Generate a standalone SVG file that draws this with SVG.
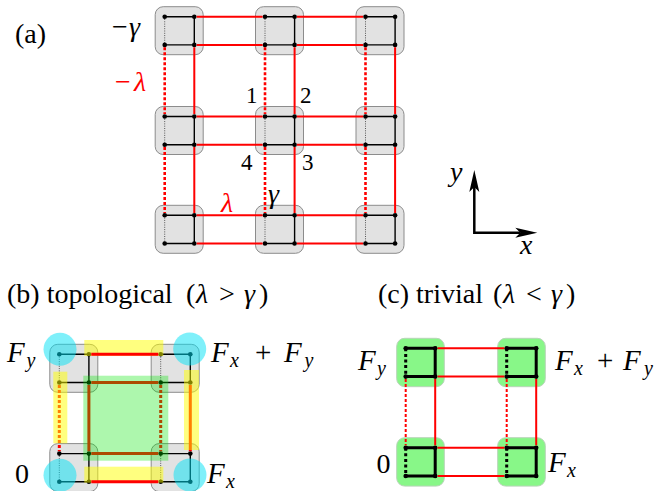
<svg xmlns="http://www.w3.org/2000/svg" width="661" height="491" viewBox="0 0 661 491">
<g id="a-r0c0"><rect x="155.2" y="6.7" width="48" height="48" rx="8" fill="#e2e2e2" stroke="#8c8c8c"/><path d="M164.7,16.7H194.3V44.9H164.7" fill="none" stroke="#000" stroke-width="1.4"/><path d="M164.7,16.7V44.9" stroke="#555" stroke-dasharray="1 1.3"/><circle cx="164.7" cy="16.7" r="2.3"/><circle cx="194.3" cy="16.7" r="2.3"/><circle cx="194.3" cy="44.9" r="2.3"/><circle cx="164.7" cy="44.9" r="2.3"/></g>
<g id="a-r0c1"><rect x="255.5" y="6.7" width="48" height="48" rx="8" fill="#e2e2e2" stroke="#8c8c8c"/><path d="M265,16.7H294.6V44.9H265" fill="none" stroke="#000" stroke-width="1.4"/><path d="M265,16.7V44.9" stroke="#555" stroke-dasharray="1 1.3"/><circle cx="265" cy="16.7" r="2.3"/><circle cx="294.6" cy="16.7" r="2.3"/><circle cx="294.6" cy="44.9" r="2.3"/><circle cx="265" cy="44.9" r="2.3"/></g>
<g id="a-r0c2"><rect x="356" y="6.7" width="48" height="48" rx="8" fill="#e2e2e2" stroke="#8c8c8c"/><path d="M365.5,16.7H395.1V44.9H365.5" fill="none" stroke="#000" stroke-width="1.4"/><path d="M365.5,16.7V44.9" stroke="#555" stroke-dasharray="1 1.3"/><circle cx="365.5" cy="16.7" r="2.3"/><circle cx="395.1" cy="16.7" r="2.3"/><circle cx="395.1" cy="44.9" r="2.3"/><circle cx="365.5" cy="44.9" r="2.3"/></g>
<g id="a-r1c0"><rect x="155.2" y="106.5" width="48" height="48" rx="8" fill="#e2e2e2" stroke="#8c8c8c"/><path d="M164.7,116.5H194.3V144.7H164.7" fill="none" stroke="#000" stroke-width="1.4"/><path d="M164.7,116.5V144.7" stroke="#555" stroke-dasharray="1 1.3"/><circle cx="164.7" cy="116.5" r="2.3"/><circle cx="194.3" cy="116.5" r="2.3"/><circle cx="194.3" cy="144.7" r="2.3"/><circle cx="164.7" cy="144.7" r="2.3"/></g>
<g id="a-r1c1"><rect x="255.5" y="106.5" width="48" height="48" rx="8" fill="#e2e2e2" stroke="#8c8c8c"/><path d="M265,116.5H294.6V144.7H265" fill="none" stroke="#000" stroke-width="1.4"/><path d="M265,116.5V144.7" stroke="#555" stroke-dasharray="1 1.3"/><circle cx="265" cy="116.5" r="2.3"/><circle cx="294.6" cy="116.5" r="2.3"/><circle cx="294.6" cy="144.7" r="2.3"/><circle cx="265" cy="144.7" r="2.3"/></g>
<g id="a-r1c2"><rect x="356" y="106.5" width="48" height="48" rx="8" fill="#e2e2e2" stroke="#8c8c8c"/><path d="M365.5,116.5H395.1V144.7H365.5" fill="none" stroke="#000" stroke-width="1.4"/><path d="M365.5,116.5V144.7" stroke="#555" stroke-dasharray="1 1.3"/><circle cx="365.5" cy="116.5" r="2.3"/><circle cx="395.1" cy="116.5" r="2.3"/><circle cx="395.1" cy="144.7" r="2.3"/><circle cx="365.5" cy="144.7" r="2.3"/></g>
<g id="a-r2c0"><rect x="155.2" y="205.3" width="48" height="48" rx="8" fill="#e2e2e2" stroke="#8c8c8c"/><path d="M164.7,215.3H194.3V243.5H164.7" fill="none" stroke="#000" stroke-width="1.4"/><path d="M164.7,215.3V243.5" stroke="#555" stroke-dasharray="1 1.3"/><circle cx="164.7" cy="215.3" r="2.3"/><circle cx="194.3" cy="215.3" r="2.3"/><circle cx="194.3" cy="243.5" r="2.3"/><circle cx="164.7" cy="243.5" r="2.3"/></g>
<g id="a-r2c1"><rect x="255.5" y="205.3" width="48" height="48" rx="8" fill="#e2e2e2" stroke="#8c8c8c"/><path d="M265,215.3H294.6V243.5H265" fill="none" stroke="#000" stroke-width="1.4"/><path d="M265,215.3V243.5" stroke="#555" stroke-dasharray="1 1.3"/><circle cx="265" cy="215.3" r="2.3"/><circle cx="294.6" cy="215.3" r="2.3"/><circle cx="294.6" cy="243.5" r="2.3"/><circle cx="265" cy="243.5" r="2.3"/></g>
<g id="a-r2c2"><rect x="356" y="205.3" width="48" height="48" rx="8" fill="#e2e2e2" stroke="#8c8c8c"/><path d="M365.5,215.3H395.1V243.5H365.5" fill="none" stroke="#000" stroke-width="1.4"/><path d="M365.5,215.3V243.5" stroke="#555" stroke-dasharray="1 1.3"/><circle cx="365.5" cy="215.3" r="2.3"/><circle cx="395.1" cy="215.3" r="2.3"/><circle cx="395.1" cy="243.5" r="2.3"/><circle cx="365.5" cy="243.5" r="2.3"/></g>

<g id="a-connectors" fill="none" stroke="#f00">
  <path stroke-width="2" d="M196.7,16.7H262.6M296.9,16.7H363.1M196.7,44.9H262.6M296.9,44.9H363.1M196.7,116.5H262.6M296.9,116.5H363.1M196.7,144.7H262.6M296.9,144.7H363.1M196.7,215.3H262.6M296.9,215.3H363.1M196.7,243.5H262.6M296.9,243.5H363.1"/>
  <path stroke-width="2" d="M194.3,47.3V114.1M294.6,47.3V114.1M395.1,47.3V114.1M194.3,147.1V212.9M294.6,147.1V212.9M395.1,147.1V212.9"/>
  <path stroke-width="2.6" stroke-dasharray="3 2" d="M164.7,47.3V114.1M265,47.3V114.1M365.5,47.3V114.1M164.7,147.1V212.9M265,147.1V212.9M365.5,147.1V212.9"/>
</g>

<text style="font-family:'Liberation Serif',serif" font-size="28" x="15" y="43">(a)</text>
<text style="font-family:'Liberation Serif',serif" font-size="28" x="112" y="36">−<tspan font-style="italic" x="129">γ</tspan></text>
<text style="font-family:'Liberation Serif',serif" font-size="28" fill="#f00" x="115" y="91">−<tspan font-style="italic" x="134">λ</tspan></text>
<text style="font-family:'Liberation Serif',serif" font-size="23" x="246" y="103">1</text>
<text style="font-family:'Liberation Serif',serif" font-size="23" x="300" y="103">2</text>
<text style="font-family:'Liberation Serif',serif" font-size="23" x="241" y="170">4</text>
<text style="font-family:'Liberation Serif',serif" font-size="23" x="302" y="170">3</text>
<text style="font-family:'Liberation Serif',serif" font-size="28" font-style="italic" fill="#f00" x="221" y="212">λ</text>
<text style="font-family:'Liberation Serif',serif" font-size="28" font-style="italic" x="268" y="203">γ</text>

<g id="axes">
  <path d="M474.3,187V232.7H520.3" fill="none" stroke="#000" stroke-width="2.5"/>
  <path d="M474.3,170L479.3,192L474.3,187L469.3,192Z" fill="#000"/>
  <path d="M537.3,232.7L515.3,237.7L520.3,232.7L515.3,227.7Z" fill="#000"/>
  <text style="font-family:'Liberation Serif',serif" font-size="28" font-style="italic" x="450" y="181">y</text>
  <text style="font-family:'Liberation Serif',serif" font-size="28" font-style="italic" x="520" y="254">x</text>
</g>

<text style="font-family:'Liberation Serif',serif" font-size="28" x="7" y="303">(b) topological<tspan x="186">(</tspan><tspan font-style="italic" x="196">λ</tspan><tspan x="219">&gt;</tspan><tspan font-style="italic" x="244">γ</tspan><tspan x="259">)</tspan></text>

<g id="b-r0c0"><rect x="49.8" y="344.3" width="48" height="48" rx="8" fill="#e2e2e2" stroke="#8c8c8c"/><path d="M59.3,354.3H88.9V382.5H59.3" fill="none" stroke="#000" stroke-width="1.4"/><path d="M59.3,354.3V382.5" stroke="#555" stroke-dasharray="1 1.3"/><circle cx="59.3" cy="354.3" r="2.3"/><circle cx="88.9" cy="354.3" r="2.3"/><circle cx="88.9" cy="382.5" r="2.3"/><circle cx="59.3" cy="382.5" r="2.3"/></g>
<g id="b-r0c1"><rect x="151.2" y="344.3" width="48" height="48" rx="8" fill="#e2e2e2" stroke="#8c8c8c"/><path d="M160.7,354.3H190.3V382.5H160.7" fill="none" stroke="#000" stroke-width="1.4"/><path d="M160.7,354.3V382.5" stroke="#555" stroke-dasharray="1 1.3"/><circle cx="160.7" cy="354.3" r="2.3"/><circle cx="190.3" cy="354.3" r="2.3"/><circle cx="190.3" cy="382.5" r="2.3"/><circle cx="160.7" cy="382.5" r="2.3"/></g>
<g id="b-r1c0"><rect x="49.8" y="443.6" width="48" height="48" rx="8" fill="#e2e2e2" stroke="#8c8c8c"/><path d="M59.3,453.6H88.9V481.8H59.3" fill="none" stroke="#000" stroke-width="1.4"/><path d="M59.3,453.6V481.8" stroke="#555" stroke-dasharray="1 1.3"/><circle cx="59.3" cy="453.6" r="2.3"/><circle cx="88.9" cy="453.6" r="2.3"/><circle cx="88.9" cy="481.8" r="2.3"/><circle cx="59.3" cy="481.8" r="2.3"/></g>
<g id="b-r1c1"><rect x="151.2" y="443.6" width="48" height="48" rx="8" fill="#e2e2e2" stroke="#8c8c8c"/><path d="M160.7,453.6H190.3V481.8H160.7" fill="none" stroke="#000" stroke-width="1.4"/><path d="M160.7,453.6V481.8" stroke="#555" stroke-dasharray="1 1.3"/><circle cx="160.7" cy="453.6" r="2.3"/><circle cx="190.3" cy="453.6" r="2.3"/><circle cx="190.3" cy="481.8" r="2.3"/><circle cx="160.7" cy="481.8" r="2.3"/></g>

<g id="b-connectors" fill="none" stroke="#f00" stroke-width="3">
  <path d="M91.3,382.5H158.3M91.3,453.6H158.3M88.9,384.9V451.2M190.3,384.9V451.2"/>
  <path stroke-dasharray="3 2" d="M59.3,384.9V451.2M160.7,384.9V451.2"/>
</g>

<g id="b-highlights">
  <g fill="#ffff00" fill-opacity="0.5">
    <rect x="84.3" y="340" width="79" height="16"/>
    <rect x="84.3" y="466.7" width="79" height="16"/>
    <rect x="53.3" y="371.7" width="14" height="71.6"/>
    <rect x="184" y="370" width="15" height="80"/>
  </g>
  <rect fill="#00e600" fill-opacity="0.32" x="83.3" y="375.7" width="85" height="85"/>
  <g fill="#00e1f5" fill-opacity="0.5">
    <circle cx="60" cy="349.3" r="16.5"/>
    <circle cx="189.7" cy="349" r="16.5"/>
    <circle cx="60" cy="475.3" r="16.5"/>
    <circle cx="190" cy="475" r="16.5"/>
  </g>
</g>
<g id="b-connectors-top" fill="none" stroke="#f00" stroke-width="3">
  <path d="M91.3,354.3H158.3M91.3,481.8H158.3"/>
</g>

<text style="font-family:'Liberation Serif',serif" font-size="29" font-style="italic" x="7" y="362">F<tspan font-size="20" x="26.5" y="367">y</tspan></text>
<text style="font-family:'Liberation Serif',serif" font-size="29" font-style="italic" x="211" y="362">F<tspan font-size="20" x="230" y="367">x</tspan><tspan font-style="normal" x="255" y="362">+</tspan><tspan x="284" y="362">F</tspan><tspan font-size="20" x="304.5" y="367">y</tspan></text>
<text style="font-family:'Liberation Serif',serif" font-size="28" x="15" y="483">0</text>
<text style="font-family:'Liberation Serif',serif" font-size="29" font-style="italic" x="207" y="483">F<tspan font-size="20" x="226" y="488">x</tspan></text>

<text style="font-family:'Liberation Serif',serif" font-size="28" x="378" y="303">(c) trivial<tspan x="493">(</tspan><tspan font-style="italic" x="503">λ</tspan><tspan x="526">&lt;</tspan><tspan font-style="italic" x="551">γ</tspan><tspan x="566">)</tspan></text>

<g id="c-r0c0"><rect x="396.7" y="338.3" width="47.6" height="48.4" rx="8" fill="#88f788" stroke="#b8d4b8"/><path d="M405.7,348.3H435.2V376.6H405.7" fill="none" stroke="#000" stroke-width="3"/><path d="M405.7,348.3V376.6" stroke="#000" stroke-width="3" stroke-dasharray="3 2.6"/><circle cx="405.7" cy="348.3" r="2.3"/><circle cx="435.2" cy="348.3" r="2.3"/><circle cx="435.2" cy="376.6" r="2.3"/><circle cx="405.7" cy="376.6" r="2.3"/></g>
<g id="c-r0c1"><rect x="497.7" y="338.3" width="47.6" height="48.4" rx="8" fill="#88f788" stroke="#b8d4b8"/><path d="M506.7,348.3H536.2V376.6H506.7" fill="none" stroke="#000" stroke-width="3"/><path d="M506.7,348.3V376.6" stroke="#000" stroke-width="3" stroke-dasharray="3 2.6"/><circle cx="506.7" cy="348.3" r="2.3"/><circle cx="536.2" cy="348.3" r="2.3"/><circle cx="536.2" cy="376.6" r="2.3"/><circle cx="506.7" cy="376.6" r="2.3"/></g>
<g id="c-r1c0"><rect x="396.7" y="437.7" width="47.6" height="48.4" rx="8" fill="#88f788" stroke="#b8d4b8"/><path d="M405.7,447.7H435.2V476H405.7" fill="none" stroke="#000" stroke-width="3"/><path d="M405.7,447.7V476" stroke="#000" stroke-width="3" stroke-dasharray="3 2.6"/><circle cx="405.7" cy="447.7" r="2.3"/><circle cx="435.2" cy="447.7" r="2.3"/><circle cx="435.2" cy="476" r="2.3"/><circle cx="405.7" cy="476" r="2.3"/></g>
<g id="c-r1c1"><rect x="497.7" y="437.7" width="47.6" height="48.4" rx="8" fill="#88f788" stroke="#b8d4b8"/><path d="M506.7,447.7H536.2V476H506.7" fill="none" stroke="#000" stroke-width="3"/><path d="M506.7,447.7V476" stroke="#000" stroke-width="3" stroke-dasharray="3 2.6"/><circle cx="506.7" cy="447.7" r="2.3"/><circle cx="536.2" cy="447.7" r="2.3"/><circle cx="536.2" cy="476" r="2.3"/><circle cx="506.7" cy="476" r="2.3"/></g>

<g id="c-connectors" fill="none" stroke="#f00" stroke-width="2">
  <path d="M437.6,348.3H504.3M437.6,376.6H504.3M437.6,447.7H504.3M437.6,476H504.3"/>
  <path d="M435.2,379V445.3M536.2,379V445.3"/>
  <path stroke-dasharray="3 2" d="M405.7,379V445.3M506.7,379V445.3"/>
</g>

<text style="font-family:'Liberation Serif',serif" font-size="29" font-style="italic" x="358" y="370">F<tspan font-size="20" x="377" y="375">y</tspan></text>
<text style="font-family:'Liberation Serif',serif" font-size="29" font-style="italic" x="555" y="370">F<tspan font-size="20" x="574" y="375">x</tspan><tspan font-style="normal" x="597" y="370">+</tspan><tspan x="623" y="370">F</tspan><tspan font-size="20" x="644" y="375">y</tspan></text>
<text style="font-family:'Liberation Serif',serif" font-size="28" x="376.5" y="473">0</text>
<text style="font-family:'Liberation Serif',serif" font-size="29" font-style="italic" x="548" y="472">F<tspan font-size="20" x="567" y="477">x</tspan></text>
</svg>
